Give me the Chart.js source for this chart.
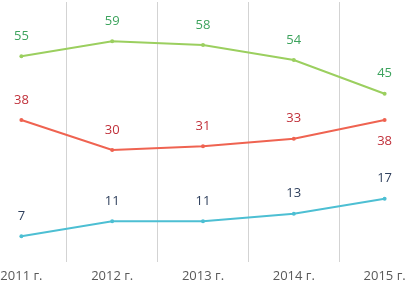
<!DOCTYPE html>
<html>
<head>
<meta charset="utf-8">
<script src="https://cdn.jsdelivr.net/npm/chart.js@4"></script>
<style>
  html, body { margin: 0; padding: 0; overflow: hidden; background: #fff; }
  body { width: 406px; height: 285px; position: relative; }
  #wrap { position: absolute; left: -26px; top: 0; width: 458px; height: 285px; }
</style>
</head>
<body>
<div id="wrap"><canvas id="chart"></canvas></div>
<script>
const years = ['2011 г.', '2012 г.', '2013 г.', '2014 г.', '2015 г.'];
const greenValues = [55, 59, 58, 54, 45];
const redValues = [38, 30, 31, 33, 38];
const blueValues = [7, 11, 11, 13, 17];

// value labels: drawn above the point, except where marked below
const valueLabels = {
  id: 'valueLabels',
  afterDatasetsDraw(chart) {
    const ctx = chart.ctx;
    ctx.save();
    ctx.font = '13px "Open Sans", sans-serif';
    ctx.textAlign = 'center';
    ctx.textBaseline = 'middle';
    chart.data.datasets.forEach((ds, i) => {
      const meta = chart.getDatasetMeta(i);
      meta.data.forEach((pt, j) => {
        const below = ds.labelBelow && ds.labelBelow[j];
        ctx.fillStyle = ds.labelColor;
        ctx.fillText(ds.data[j], pt.x, pt.y + (below ? 21 : -20));
      });
    });
    ctx.restore();
  }
};

new Chart(document.getElementById('chart'), {
  type: 'line',
  data: {
    labels: years,
    datasets: [
      { data: greenValues, borderColor: '#9BCF5F', backgroundColor: '#9BCF5F', labelColor: '#3DA35D' },
      { data: redValues, borderColor: '#EF6351', backgroundColor: '#EF6351', labelColor: '#C0303A',
        labelBelow: [false, false, false, false, true] },
      { data: blueValues, borderColor: '#4DBFD3', backgroundColor: '#4DBFD3', labelColor: '#2E3F5C' }
    ]
  },
  options: {
    responsive: true,
    maintainAspectRatio: false,
    animation: false,
    layout: { padding: { top: 0, left: 0, right: 0, bottom: -5 } },
    elements: {
      line: { borderWidth: 2, tension: 0 },
      point: { radius: 2, borderWidth: 0, hoverRadius: 2 }
    },
    plugins: { legend: { display: false }, tooltip: { enabled: false } },
    scales: {
      x: {
        offset: true,
        grid: { offset: true, color: '#D3D3D3', drawTicks: false },
        border: { display: false },
        ticks: {
          color: '#595959',
          font: { family: '"Open Sans", sans-serif', size: 13 },
          padding: 6,
          maxRotation: 0,
          autoSkip: false
        }
      },
      y: { display: false, min: 0, max: 69.5 }
    }
  },
  plugins: [valueLabels]
});
</script>
</body>
</html>
